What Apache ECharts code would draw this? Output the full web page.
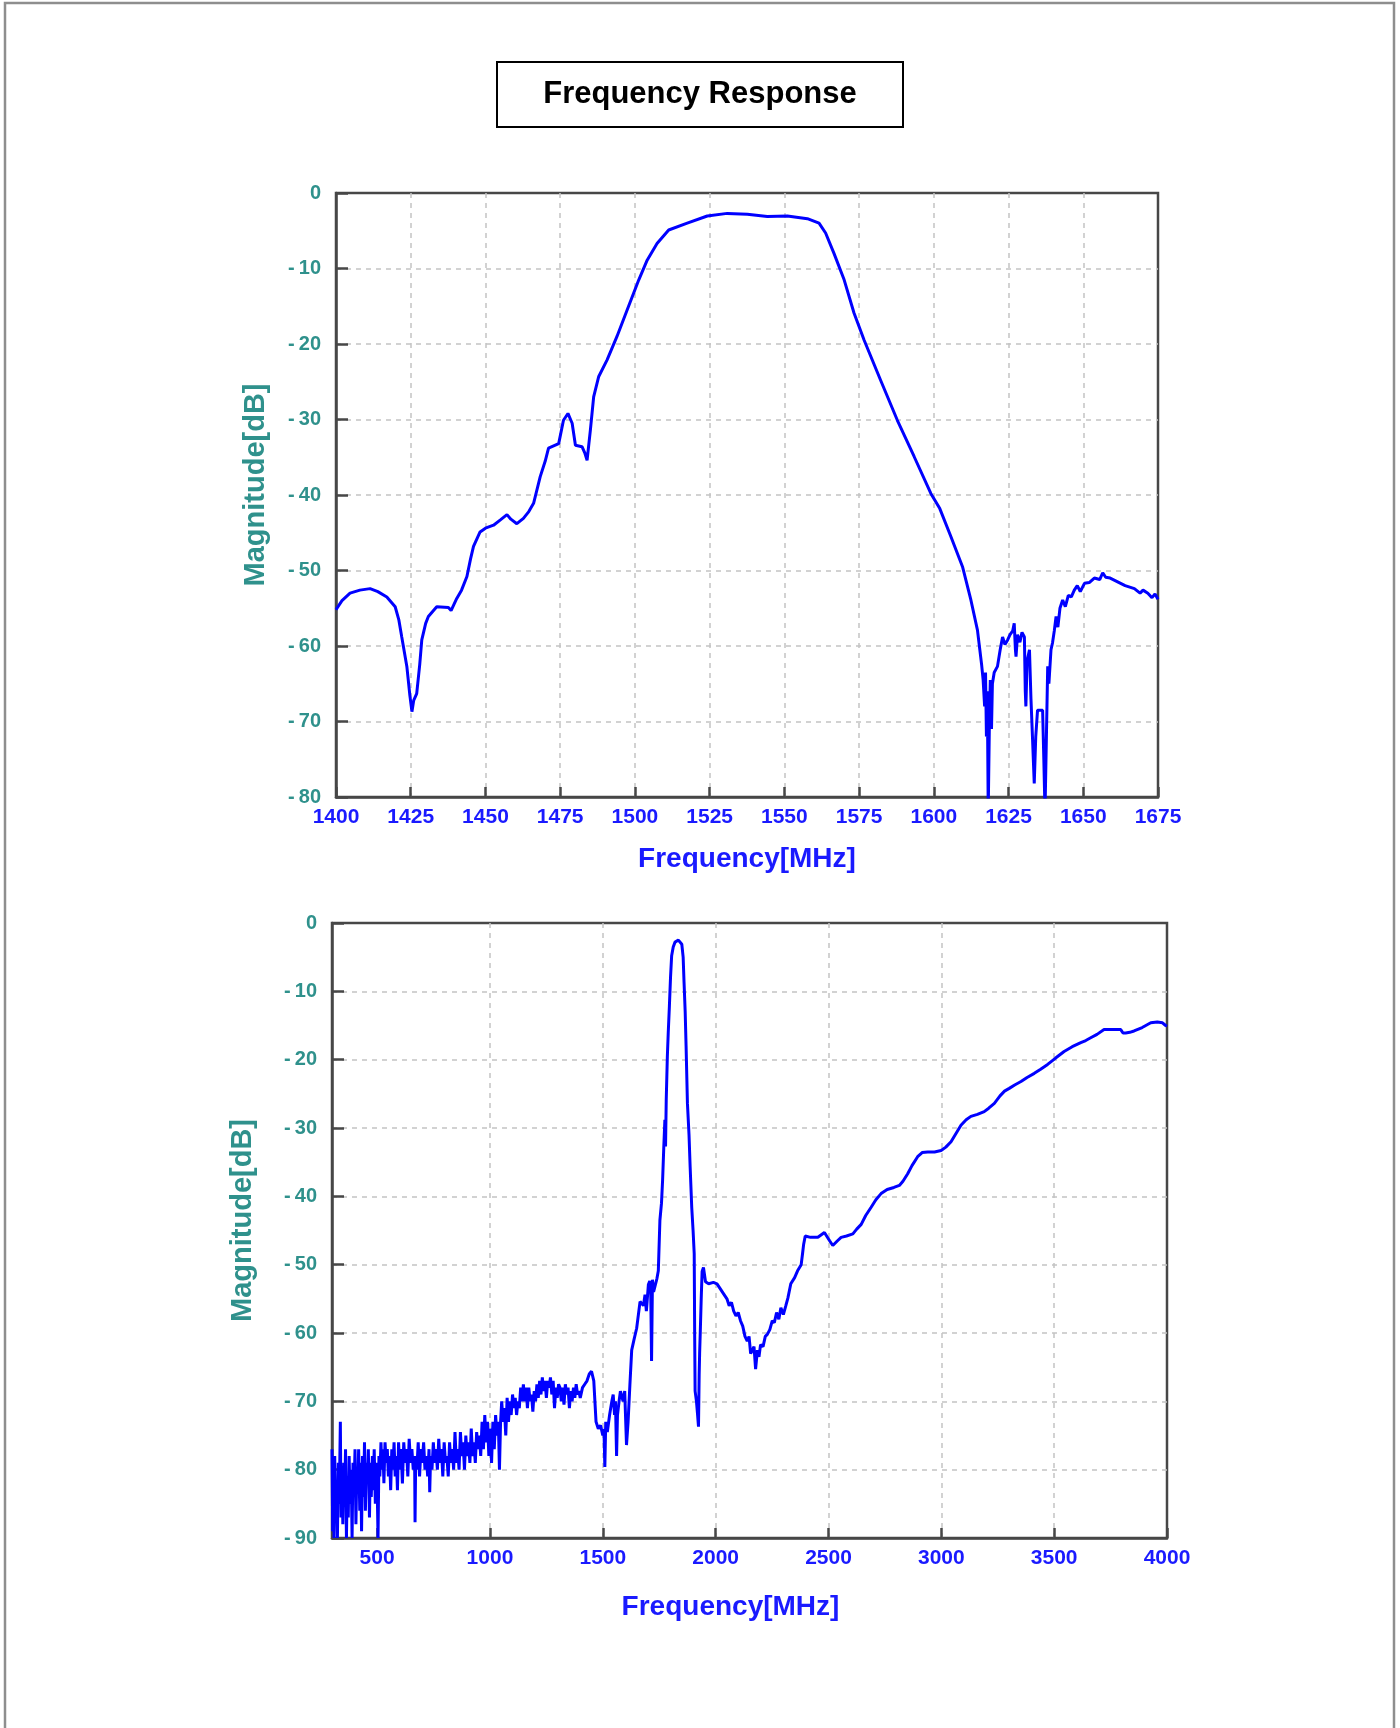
<!DOCTYPE html>
<html>
<head>
<meta charset="utf-8">
<script src="https://cdn.jsdelivr.net/npm/echarts@6/dist/echarts.min.js"></script>
<style>
html,body{margin:0;padding:0;background:#fff;}
#chart{width:1400px;height:1728px;}
</style>
</head>
<body>
<div id="chart"></div>
<script>
// ---- Top plot: 1400–1675 MHz ----
var topFreq = [1400,1402,1404.7,1408,1411.4,1414,1417,1419.8,1421,1422,1423.7,1424.7,1425.4,1426,1427,1428,1428.7,1430,1430.9,1433.7,1437.6,1438.5,1440.4,1442,1443.8,1445,1446,1448.2,1450,1452.7,1455,1457.2,1458.5,1460.5,1462.7,1464.5,1466.1,1468.3,1470,1471.1,1474.5,1476.1,1477.6,1479,1480.1,1482.3,1483.3,1484,1485.1,1486.2,1487.9,1490.7,1494,1497.4,1501.3,1504.1,1507.4,1511.3,1517.5,1524.2,1530.9,1537.6,1544.3,1551,1557.7,1561.6,1563.8,1566.6,1570,1573.3,1576.7,1582.2,1587.8,1593.4,1599,1602,1605.7,1609.6,1612.4,1614.6,1616,1616.5,1617,1617.3,1617.6,1617.9,1618.2,1618.6,1618.9,1619.3,1619.6,1620.2,1621.3,1622.2,1623,1623.8,1624.7,1625.5,1626.4,1626.9,1627.3,1627.5,1628,1628.8,1629.5,1630.3,1630.6,1630.8,1631.2,1632,1632.5,1633,1633.6,1634.1,1634.7,1636.4,1636.8,1637.2,1637.7,1638.1,1638.5,1639.2,1639.7,1640.3,1640.9,1641.5,1642.2,1643.1,1644,1645,1646,1647,1648,1649,1650.4,1652,1653.7,1655.5,1656.5,1657.5,1659,1661.5,1664,1667.1,1669,1670,1671.6,1673,1674,1675];
var topMag = [-55.2,-54.0,-53.0,-52.6,-52.4,-52.8,-53.5,-54.8,-56.5,-58.8,-62.7,-66.5,-68.7,-67.2,-66.3,-62.5,-59.2,-57.0,-56.1,-54.8,-54.9,-55.3,-53.7,-52.6,-50.8,-48.5,-46.8,-44.9,-44.4,-44.0,-43.3,-42.6,-43.2,-43.8,-43.1,-42.2,-41.1,-37.6,-35.5,-33.8,-33.2,-30.1,-29.2,-30.5,-33.4,-33.6,-34.5,-35.4,-31.4,-27.0,-24.3,-22.1,-19.0,-15.5,-11.5,-8.9,-6.7,-4.9,-4.0,-3.05,-2.7,-2.8,-3.1,-3.05,-3.4,-4.0,-5.3,-8.0,-11.5,-15.9,-19.5,-24.8,-30.1,-34.9,-39.8,-41.8,-45.5,-49.5,-53.9,-57.9,-62.5,-64.5,-68,-63.5,-72,-66,-82,-70,-64.5,-71,-65,-63.5,-62.7,-60.5,-58.8,-59.8,-59.2,-58.5,-58.0,-57.0,-60.5,-61.4,-58.5,-59.5,-58.2,-58.8,-66,-68.0,-62,-60.5,-67,-72,-78.2,-72,-68.5,-68.5,-75,-82,-82,-62.7,-65,-60.5,-59.6,-58.0,-56.1,-57.5,-55.0,-53.9,-54.8,-53.3,-53.5,-52.6,-52.0,-52.8,-51.7,-51.6,-51.0,-51.2,-50.3,-50.9,-51.0,-51.5,-52.0,-52.4,-53.0,-52.6,-53.0,-53.6,-53.1,-53.8];

// ---- Bottom plot: 300–4000 MHz ----
var botFreq = [300,303,306,309,312,316,320,324,328,332,337,340,344,348,352,356,360,364,368,372,376,380,385,389,393,397,402,406,410,414,418,423,427,431,435,440,444,448,452,457,461,466,470,474,479,483,487,492,496,500,504,508,512,517,521,526,530,535,540,545,550,555,560,565,570,575,580,585,590,595,600,606,612,618,624,630,636,642,648,654,660,666,668,671,676,682,688,694,700,706,712,718,724,730,733,737,743,749,755,761,767,773,779,785,791,797,803,809,815,821,827,833,839,845,851,857,863,869,875,881,887,893,899,905,911,917,923,929,935,941,947,953,959,965,971,977,983,989,995,1001,1007,1013,1019,1025,1031,1037,1042,1047,1052,1058,1064,1070,1076,1082,1088,1094,1100,1106,1112,1118,1124,1130,1136,1142,1148,1154,1160,1166,1172,1178,1184,1190,1196,1202,1208,1214,1220,1226,1232,1238,1244,1250,1256,1262,1268,1274,1280,1286,1292,1298,1304,1310,1316,1322,1328,1334,1340,1346,1352,1358,1364,1370,1376,1382,1388,1394,1400,1410,1420,1430,1440,1450,1460,1470,1480,1490,1500,1505,1509,1513,1520,1530,1540,1546,1552,1556,1561,1565,1572,1578,1583,1590,1597,1605,1612,1620,1628,1638,1650,1656,1665,1671,1680,1687,1693,1702,1708,1712,1716,1720,1725,1731,1740,1746,1753,1760,1765,1770,1773,1775,1778,1781,1786,1790,1795,1800,1805,1812,1820,1835,1850,1856,1860,1865,1869,1875,1882,1887,1894,1900,1905,1907,1909,1915,1920,1924,1927,1929,1932,1936,1940,1946,1955,1969,1990,2006,2020,2036,2050,2060,2070,2080,2090,2100,2110,2120,2130,2140,2148,2155,2162,2170,2177,2185,2192,2199,2210,2220,2229,2240,2251,2260,2270,2280,2289,2300,2311,2320,2333,2350,2363,2379,2385,2390,2397,2420,2453,2482,2505,2519,2527,2540,2556,2580,2608,2625,2645,2665,2689,2710,2733,2760,2790,2814,2830,2851,2870,2895,2915,2940,2970,2999,3020,3043,3065,3087,3110,3131,3160,3190,3210,3235,3260,3280,3301,3325,3353,3380,3412,3440,3471,3505,3544,3580,3618,3640,3662,3690,3721,3760,3795,3805,3817,3835,3854,3890,3928,3957,3980,3994,4000];
var botMag = [-77,-89,-80,-90,-78,-86,-82,-90,-79,-85,-73,-87,-80,-88,-79,-84,-77,-90,-81,-87,-78,-85,-80,-90,-79,-84,-77,-88,-80,-83,-77,-86,-79,-89,-78,-84,-76,-86,-79,-82,-77,-87,-79,-84,-78,-83,-77,-85,-79,-82,-90,-78,-81,-76,-80,-77,-82,-76,-79,-77,-81,-78,-83,-77,-80,-76,-81,-78,-83,-76,-80,-77,-82,-76,-79,-77,-81,-75.5,-79,-77,-80,-78,-87.7,-78,-80,-76,-81,-77,-79,-76,-80,-78,-81,-77,-83.3,-78,-80,-76,-79,-77,-80,-75.5,-79,-77,-81,-76,-79,-78,-81,-76,-79,-77,-80,-74.5,-79,-77,-80,-74.5,-78,-76,-80,-75,-78,-76,-79,-74,-78,-76,-79,-74.5,-77,-75,-78,-73,-77,-72,-76,-73,-78,-74,-79,-73,-77,-72,-75,-73,-80,-73,-70,-73,-71,-75,-69.5,-73,-70,-72,-69,-71,-69.5,-72,-70,-71,-68,-70,-67.5,-70,-68,-71,-68,-70,-69,-71.5,-68.5,-70,-67.5,-69.5,-67,-69,-66.5,-68.5,-67,-69.5,-67,-68,-66.5,-69,-67,-71,-68,-69.5,-67.5,-68,-70,-68,-70.5,-67.5,-69,-68,-71,-68.5,-70,-68,-69.5,-67.5,-69,-68.5,-69.5,-68,-67.5,-67,-66,-65.6,-67,-73,-74,-73.5,-75,-74,-79.6,-73,-74.5,-72,-70,-69,-72,-70,-78,-72,-70,-68.5,-68.3,-70,-68.5,-76.4,-73,-67.6,-62.5,-61,-59.3,-59.2,-55.4,-55.3,-56,-54.4,-56.8,-52.9,-52.4,-53,-64.1,-52.2,-54,-53.8,-52,-50.9,-43.5,-41,-37.6,-33,-30.5,-28.8,-32.7,-26,-19.5,-16,-12.2,-8,-4.8,-3.5,-2.8,-2.5,-3.1,-5,-8.7,-13,-18.0,-26.4,-31,-35.7,-41.6,-45,-48.4,-60,-68.5,-70,-72,-73.7,-66,-63,-59.7,-55,-51,-50.4,-52.5,-52.8,-52.6,-52.8,-53.5,-54.3,-55,-56,-55.5,-56.8,-57.5,-57,-58.2,-59,-60.5,-61.2,-60.5,-63,-63.1,-62,-65.3,-62.5,-63.5,-61.7,-62,-60.5,-60.2,-59.5,-58.2,-58.5,-57,-58,-56.3,-57.3,-56,-54.9,-52.8,-51.9,-50.9,-50,-48.4,-47,-45.8,-46,-46,-45.3,-46.5,-47.2,-47.3,-46.5,-46,-45.8,-45.5,-44.8,-44.1,-42.8,-41.6,-40.5,-39.6,-39,-38.7,-38.4,-37.8,-36.7,-35.5,-34.2,-33.6,-33.5,-33.5,-33.3,-32.8,-32,-30.8,-29.6,-28.8,-28.3,-28,-27.6,-27.1,-26.4,-25.3,-24.6,-24.2,-23.7,-23.2,-22.6,-22,-21.4,-20.7,-19.8,-18.8,-18.1,-17.5,-17.2,-16.8,-16.3,-15.6,-15.6,-15.6,-16.1,-16.1,-16,-15.8,-15.3,-14.6,-14.5,-14.6,-15,-15.1];

var botXTicks = [500,1000,1500,2000,2500,3000,3500,4000];

var TEAL = '#2f918c', BLUE = '#1a1aff', AXIS = '#474747', GRIDC = '#c4c4c4';
var FONT = 'Liberation Sans';

function zip(a, b) { return a.map(function (v, i) { return [v, b[i]]; }); }
function yFmt(v) { return v < 0 ? '-\u2009' + Math.abs(v) : String(v); }
function xFmt(v) { return String(v); }

function xAxisBase(gi, min, max, nameGap, namePad) {
  return {
    type: 'value', gridIndex: gi, min: min, max: max,
    name: 'Frequency[MHz]', nameLocation: 'middle', nameGap: nameGap,
    nameTextStyle: { color: BLUE, fontFamily: FONT, fontWeight: 'bold', fontSize: 28, padding: namePad },
    axisLine: { show: true, onZero: false, lineStyle: { color: AXIS, width: 2.5 } },
    axisTick: { show: true, inside: true, length: 10, lineStyle: { color: AXIS, width: 2.5 } },
    axisLabel: { color: BLUE, fontFamily: FONT, fontWeight: 'bold', fontSize: 21, margin: 10, formatter: xFmt },
    splitLine: { show: true, showMinLine: false, showMaxLine: false, lineStyle: { color: GRIDC, type: [5, 5], width: 1.5 } }
  };
}
function yAxisBase(gi, min, nameGap) {
  return {
    type: 'value', gridIndex: gi, min: min, max: 0, interval: 10,
    name: 'Magnitude[dB]', nameLocation: 'middle', nameGap: nameGap, nameRotate: 90,
    nameTextStyle: { color: TEAL, fontFamily: FONT, fontWeight: 'bold', fontSize: 29, padding: [0, 0, 0, 20] },
    axisLine: { show: true, onZero: false, lineStyle: { color: AXIS, width: 2.5 } },
    axisTick: { show: true, inside: true, length: 12, lineStyle: { color: AXIS, width: 2.5 } },
    axisLabel: { color: TEAL, fontFamily: FONT, fontWeight: 'bold', fontSize: 20, margin: 15, formatter: yFmt },
    splitLine: { show: true, showMinLine: false, showMaxLine: false, lineStyle: { color: GRIDC, type: [5, 5], width: 1.5 } }
  };
}

var xTop = xAxisBase(0, 1400, 1675, 48, [0, 0, 0, 0]);
xTop.interval = 25;
var xBot = xAxisBase(1, 300, 4000, 55, [0, 38, 0, 0]);
xBot.axisLabel.customValues = botXTicks;
xBot.axisTick.customValues = botXTicks;

var chart = echarts.init(document.getElementById('chart'), null, { renderer: 'canvas' });
chart.setOption({
  backgroundColor: '#ffffff',
  animation: false,
  title: {
    text: 'Frequency Response', left: 'center', top: 62,
    padding: [17, 46], borderColor: '#000', borderWidth: 2,
    textStyle: { fontFamily: FONT, fontWeight: 'bold', fontSize: 31, color: '#000' }
  },
  graphic: [{
    type: 'rect', z: -10, silent: true,
    shape: { x: 5, y: 3, width: 1389, height: 1780 },
    style: { fill: 'none', stroke: '#8e8e8e', lineWidth: 2.5 }
  }],
  grid: [
    { left: 336, top: 193, width: 822, height: 604, show: true, borderColor: AXIS, borderWidth: 2.5, backgroundColor: '#fff' },
    { left: 332, top: 923, width: 835, height: 615, show: true, borderColor: AXIS, borderWidth: 2.5, backgroundColor: '#fff' }
  ],
  xAxis: [xTop, xBot],
  yAxis: [yAxisBase(0, -80, 66), yAxisBase(1, -90, 75)],
  series: [
    { type: 'line', xAxisIndex: 0, yAxisIndex: 0, data: zip(topFreq, topMag), showSymbol: false, symbol: 'none', clip: true,
      lineStyle: { color: '#0000ff', width: 3 } },
    { type: 'line', xAxisIndex: 1, yAxisIndex: 1, data: zip(botFreq, botMag), showSymbol: false, symbol: 'none', clip: true,
      lineStyle: { color: '#0000ff', width: 3 } }
  ]
});
</script>
</body>
</html>
